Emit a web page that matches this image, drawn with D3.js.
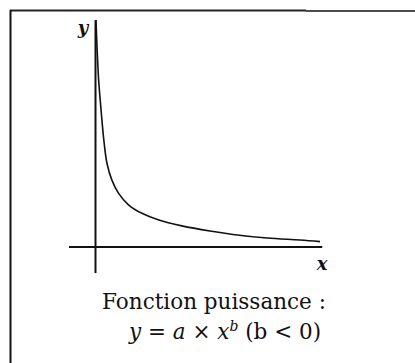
<!DOCTYPE html>
<html>
<head>
<meta charset="utf-8">
<script src="https://cdn.jsdelivr.net/npm/d3@7"></script>
<style>
  html, body { margin: 0; padding: 0; background: #fff; }
  svg { display: block; }
  text { font-family: "DejaVu Serif", "Liberation Serif", serif; fill: #111; }
</style>
</head>
<body>
<svg id="chart" width="415" height="363"></svg>
<script>
// Sampled points of the decreasing power curve y = a·x^b (b < 0)
const xValues = [0.02, 0.08, 0.14, 0.26, 0.37, 0.51, 0.73, 1.03, 1.48, 2.07, 2.82, 3.85, 5.10, 6.12, 7.64, 9.11, 10.0];
const yValues = [10.11, 8.64, 7.44, 5.96, 4.77, 3.73, 2.98, 2.39, 1.87, 1.50, 1.20, 0.94, 0.71, 0.56, 0.40, 0.31, 0.24];

// Axis extents (data units)
const xAxisExtent = [-1.18, 10.1];
const yAxisExtent = [-1.16, 10.1];

const axisLabels = { x: "x", y: "y" };
const titleLine1 = "Fonction puissance :";

const svg = d3.select("#chart");

const x = d3.scaleLinear().domain([0, 10]).range([95.5, 320]);
const y = d3.scaleLinear().domain([0, 10]).range([247, 22.5]);

// Frame
svg.append("line").attr("x1", 10).attr("y1", 10.5).attr("x2", 306).attr("y2", 10.5)
  .attr("stroke", "#222").attr("stroke-width", 2);
svg.append("line").attr("x1", 306).attr("y1", 11).attr("x2", 415).attr("y2", 11)
  .attr("stroke", "#111").attr("stroke-width", 1.3);
svg.append("line").attr("x1", 10.5).attr("y1", 10).attr("x2", 10.5).attr("y2", 363)
  .attr("stroke", "#111").attr("stroke-width", 2);

// Axes
svg.append("line")
  .attr("x1", x(xAxisExtent[0])).attr("x2", x(xAxisExtent[1]))
  .attr("y1", y(0)).attr("y2", y(0))
  .attr("stroke", "#111").attr("stroke-width", 2);
svg.append("line")
  .attr("x1", x(0)).attr("x2", x(0))
  .attr("y1", y(yAxisExtent[0])).attr("y2", y(yAxisExtent[1]))
  .attr("stroke", "#111").attr("stroke-width", 2);

// Curve
const pts = xValues.map((v, i) => [v, yValues[i]]);
svg.append("path")
  .datum(pts)
  .attr("fill", "none")
  .attr("stroke", "#111")
  .attr("stroke-width", 1.6)
  .attr("d", d3.line().x(d => x(d[0])).y(d => y(d[1])).curve(d3.curveCatmullRom.alpha(0.5)));

// Axis labels
svg.append("text").text(axisLabels.y)
  .attr("x", 83).attr("y", 34)
  .attr("text-anchor", "middle")
  .attr("font-style", "italic").attr("font-weight", "bold")
  .attr("font-size", 18);
svg.append("text").text(axisLabels.x)
  .attr("x", 322).attr("y", 270)
  .attr("text-anchor", "middle")
  .attr("font-style", "italic").attr("font-weight", "bold")
  .attr("font-size", 18);

// Caption
svg.append("text").text(titleLine1)
  .attr("x", 214).attr("y", 309)
  .attr("text-anchor", "middle")
  .attr("font-size", 21.5);

const eq = svg.append("text")
  .attr("x", 225).attr("y", 339)
  .attr("text-anchor", "middle")
  .attr("font-size", 21.5);
eq.append("tspan").attr("font-style", "italic").text("y");
eq.append("tspan").text(" = ");
eq.append("tspan").attr("font-style", "italic").text("a");
eq.append("tspan").text(" × ");
eq.append("tspan").attr("font-style", "italic").text("x");
eq.append("tspan").attr("font-style", "italic").attr("font-size", 14).attr("dy", -8).text("b");
eq.append("tspan").attr("dy", 8).text(" (b < 0)");
</script>
</body>
</html>
